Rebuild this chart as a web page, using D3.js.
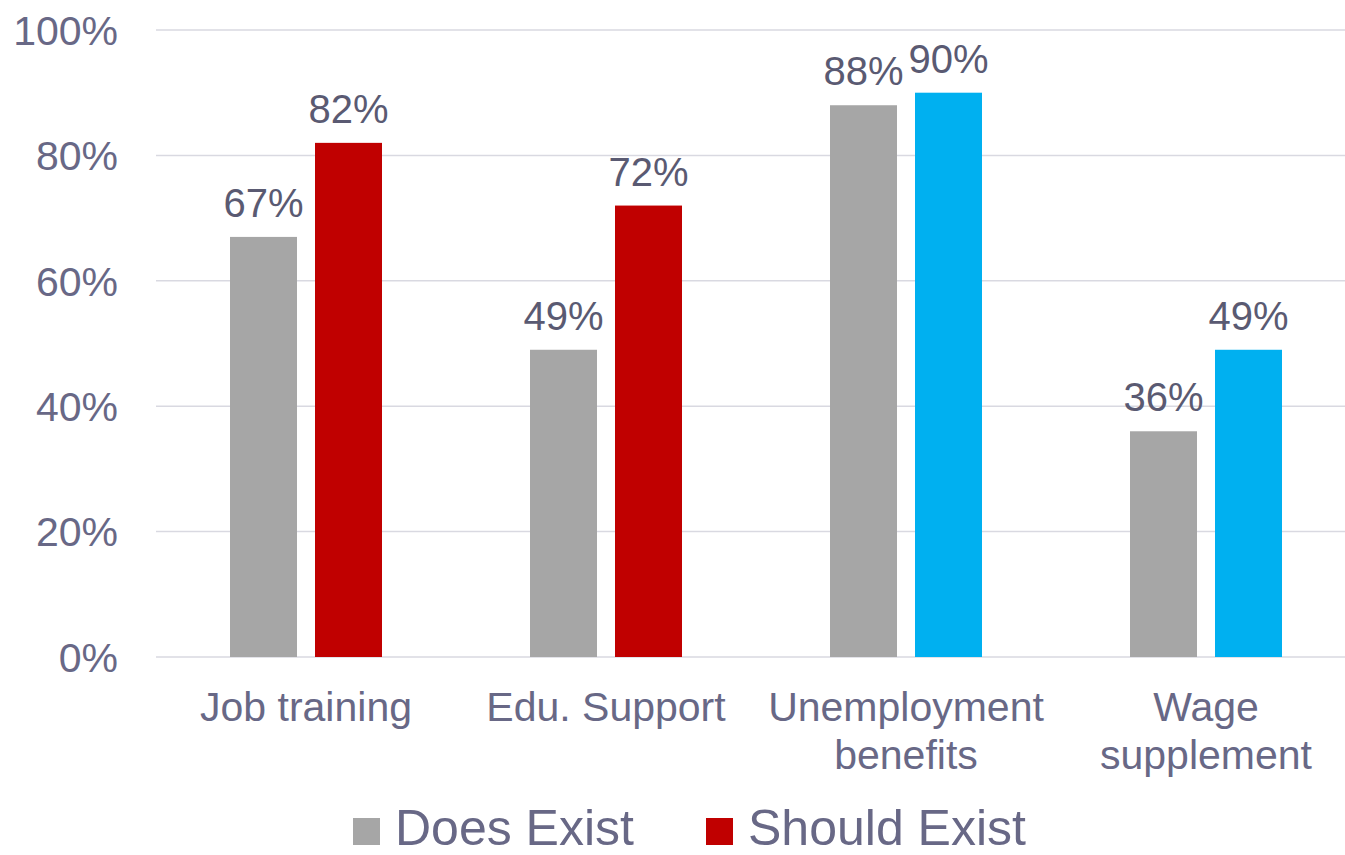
<!DOCTYPE html>
<html>
<head>
<meta charset="utf-8">
<script src="https://cdn.jsdelivr.net/npm/d3@7"></script>
<style>
  html, body { margin: 0; padding: 0; background: #fff; }
  svg { display: block; font-family: "Liberation Sans", Arial, sans-serif; }
</style>
</head>
<body>
<svg id="chart" width="1345" height="855"></svg>
<script>
// Survey results: share saying each programme does exist vs. should exist
const categories = [["Job training"], ["Edu. Support"], ["Unemployment", "benefits"], ["Wage", "supplement"]];
const doesExist = [0.67, 0.49, 0.88, 0.36];
const shouldExist = [0.82, 0.72, 0.90, 0.49];
const shouldColors = ["#C00000", "#C00000", "#00B0F0", "#00B0F0"];
const yTicks = [0, 0.2, 0.4, 0.6, 0.8, 1.0];
const legendItems = [
  { label: "Does Exist", color: "#A6A6A6" },
  { label: "Should Exist", color: "#C00000" }
];

const svg = d3.select("#chart");
const axisColor = "#686886";
const labelColor = "#5a5a72";

const x = d3.scaleBand().domain(d3.range(categories.length)).range([156, 1356]);
const y = d3.scaleLinear().domain([0, 1]).range([657, 30]);

const barW = 67, gap = 18;

// Gridlines
svg.append("g").selectAll("line").data(yTicks).join("line")
  .attr("x1", 156).attr("x2", 1356)
  .attr("y1", d => y(d)).attr("y2", d => y(d))
  .attr("stroke", "#d9d9e1").attr("stroke-width", 1.5);

// Y axis labels
const yAxis = d3.axisLeft(y).tickValues(yTicks).tickFormat(d3.format(".0%")).tickSize(0).tickPadding(0);
const yg = svg.append("g").attr("transform", "translate(118,0)").call(yAxis);
yg.select(".domain").remove();
yg.selectAll("text")
  .attr("fill", axisColor).attr("font-size", 41)
  .attr("dy", "0.35em")
  .style("font-family", "'Liberation Sans', Arial, sans-serif");

const series = [
  { values: doesExist, offset: -(gap / 2 + barW), color: () => "#A6A6A6" },
  { values: shouldExist, offset: gap / 2, color: i => shouldColors[i] }
];

series.forEach(s => {
  const g = svg.append("g");
  const data = s.values.map((v, i) => ({ v, i }));
  g.selectAll("rect").data(data).join("rect")
    .attr("x", d => x(d.i) + x.bandwidth() / 2 + s.offset)
    .attr("width", barW)
    .attr("y", d => y(d.v))
    .attr("height", d => y(0) - y(d.v))
    .attr("fill", d => s.color(d.i));
  g.selectAll("text").data(data).join("text")
    .attr("x", d => x(d.i) + x.bandwidth() / 2 + s.offset + barW / 2)
    .attr("y", d => y(d.v) - 20)
    .attr("text-anchor", "middle")
    .attr("font-size", 40)
    .attr("fill", labelColor)
    .text(d => d3.format(".0%")(d.v));
});

// Category labels
const cg = svg.append("g");
categories.forEach((lines, i) => {
  const t = cg.append("text")
    .attr("x", x(i) + x.bandwidth() / 2)
    .attr("y", 721)
    .attr("text-anchor", "middle")
    .attr("font-size", 41)
    .attr("fill", axisColor);
  lines.forEach((ln, j) => {
    t.append("tspan").attr("x", x(i) + x.bandwidth() / 2).attr("dy", j === 0 ? 0 : 48).text(ln);
  });
});

// Legend
const lg = svg.append("g");
const legendX = [353, 706];
legendItems.forEach((item, i) => {
  lg.append("rect").attr("x", legendX[i]).attr("y", 818).attr("width", 27).attr("height", 27).attr("fill", item.color);
  lg.append("text").attr("x", legendX[i] + 42).attr("y", 845)
    .attr("font-size", 50).attr("fill", axisColor).text(item.label);
});
</script>
</body>
</html>
